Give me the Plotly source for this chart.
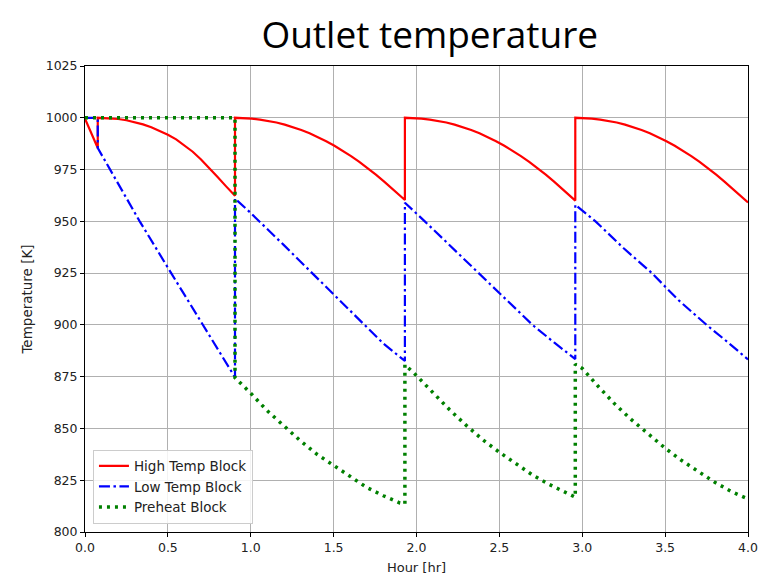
import plotly.graph_objects as go

# ---- data (hour, Kelvin) ----
high_t = [0.0, 0.077, 0.077, 0.15, 0.2, 0.25, 0.3, 0.35, 0.4, 0.45, 0.5, 0.55, 0.6, 0.65,
          0.7, 0.75, 0.8, 0.85, 0.905, 0.905,
          0.955, 1.005, 1.055, 1.105, 1.155, 1.205, 1.255, 1.305, 1.355, 1.405, 1.455,
          1.505, 1.555, 1.605, 1.655, 1.705, 1.755, 1.805, 1.855, 1.905, 1.93, 1.93,
          1.98, 2.03, 2.08, 2.13, 2.18, 2.23, 2.28, 2.33, 2.38, 2.43, 2.48,
          2.53, 2.58, 2.63, 2.68, 2.73, 2.78, 2.83, 2.88, 2.93, 2.958, 2.958,
          3.008, 3.058, 3.108, 3.158, 3.208, 3.258, 3.308, 3.358, 3.408, 3.458, 3.508,
          3.558, 3.608, 3.658, 3.708, 3.758, 3.808, 3.858, 3.908, 3.958, 4.0]
high_temp = [999.5, 985.4, 1000.0, 999.8, 999.4, 998.8, 997.9, 996.8, 995.4, 993.7, 991.8, 989.6, 986.8, 983.6,
             979.9, 975.8, 971.4, 967.0, 962.3, 1000.0,
             999.9, 999.6, 999.1, 998.5, 997.7, 996.7, 995.5, 994.1, 992.5, 990.7, 988.7,
             986.5, 984.1, 981.5, 978.7, 975.7, 972.5, 969.2, 965.7, 962.1, 960.3, 1000.0,
             999.9, 999.6, 999.1, 998.5, 997.7, 996.7, 995.5, 994.1, 992.5, 990.7, 988.7,
             986.5, 984.1, 981.5, 978.7, 975.7, 972.5, 969.2, 965.7, 962.1, 960.0, 1000.0,
             999.9, 999.6, 999.1, 998.5, 997.7, 996.7, 995.5, 994.1, 992.5, 990.7, 988.7,
             986.5, 984.1, 981.5, 978.7, 975.7, 972.5, 969.2, 965.7, 962.1, 959.1]

low_t = [0.0, 0.077, 0.077, 0.33, 0.52, 0.71, 0.905, 0.905,
         1.0, 1.2, 1.4, 1.6, 1.8, 1.93, 1.93,
         2.05, 2.2, 2.373, 2.55, 2.7, 2.83, 2.958, 2.958,
         3.08, 3.25, 3.42, 3.58, 3.75, 3.88, 4.0]
low_temp = [1000.0, 1000.0, 985.4, 950.0, 925.0, 900.0, 874.7, 961.0,
            954.0, 938.5, 922.8, 907.0, 891.0, 882.6, 959.0,
            950.0, 938.5, 925.0, 911.5, 900.0, 891.5, 883.5, 958.0,
            950.0, 937.0, 925.0, 912.0, 900.0, 891.5, 883.3]

pre_t = [0.0, 0.905, 0.905,
         1.0, 1.1, 1.2, 1.3, 1.4, 1.5, 1.6, 1.7, 1.8, 1.9, 1.93, 1.93,
         2.0, 2.1, 2.2, 2.3, 2.4, 2.5, 2.6, 2.7, 2.8, 2.9, 2.958, 2.958,
         3.0, 3.1, 3.2, 3.3, 3.4, 3.5, 3.6, 3.7, 3.8, 3.9, 4.0]
pre_temp = [1000.0, 1000.0, 874.5,
            867.0, 858.5, 851.0, 844.0, 837.5, 832.0, 826.5, 821.5, 817.5, 814.0, 813.5, 880.8,
            875.5, 867.0, 859.0, 851.5, 844.5, 838.5, 833.0, 827.5, 823.0, 819.0, 816.8, 881.0,
            879.0, 870.0, 861.5, 854.0, 847.0, 840.5, 834.5, 829.0, 824.0, 819.5, 816.0]

x_ticks = [0.0, 0.5, 1.0, 1.5, 2.0, 2.5, 3.0, 3.5, 4.0]
y_ticks = [800, 825, 850, 875, 900, 925, 950, 975, 1000, 1025]

fig = go.Figure()
fig.add_trace(go.Scatter(x=high_t, y=high_temp, mode="lines", name="High Temp Block",
                         line=dict(color="#ff0000", width=2.2)))
fig.add_trace(go.Scatter(x=low_t, y=low_temp, mode="lines", name="Low Temp Block",
                         line=dict(color="#0000ff", width=2.2, dash="11px,3.5px,2.5px,3.5px")))
fig.add_trace(go.Scatter(x=pre_t, y=pre_temp, mode="lines", name="Preheat Block",
                         line=dict(color="#008000", width=3.5, dash="3px,5px")))

axis_common = dict(showline=True, linecolor="black", linewidth=1, mirror=True,
                   ticks="outside", ticklen=4, tickcolor="black", tickwidth=1,
                   showgrid=True, gridcolor="#b0b0b0", gridwidth=1, zeroline=False,
                   automargin=False,
                   tickfont=dict(family="DejaVu Sans", size=12.5, color="#222222"))

# the page body adds an 8px offset, so the figure is 764x572 placed at (8, 8)
fig.update_layout(
    width=764, height=572,
    margin=dict(l=77, r=24, t=58, b=48),
    paper_bgcolor="white", plot_bgcolor="white",
    title=dict(text="Outlet temperature", x=0.552, xref="container", xanchor="center",
               y=1 - 27 / 572, yref="container", yanchor="middle",
               font=dict(family="Open Sans", size=37, color="black")),
    xaxis=dict(range=[0, 4], tickvals=x_ticks, ticktext=[f"{v:.1f}" for v in x_ticks],
               title=dict(text="Hour [hr]", standoff=8,
                          font=dict(family="DejaVu Sans", size=13, color="#222222")),
               **axis_common),
    yaxis=dict(range=[800, 1025], tickvals=y_ticks, ticktext=[str(v) for v in y_ticks],
               title=dict(text="Temperature [K]", standoff=9,
                          font=dict(family="DejaVu Sans", size=13.5, color="#222222")),
               **axis_common),
    legend=dict(x=0.012, y=0.018, xanchor="left", yanchor="bottom",
                bgcolor="rgba(255,255,255,0.85)", bordercolor="#cccccc", borderwidth=1,
                font=dict(family="DejaVu Sans", size=13.5, color="#222222"),
                itemwidth=30, tracegroupgap=0),
    showlegend=True,
)

fig.write_html("out.html")
